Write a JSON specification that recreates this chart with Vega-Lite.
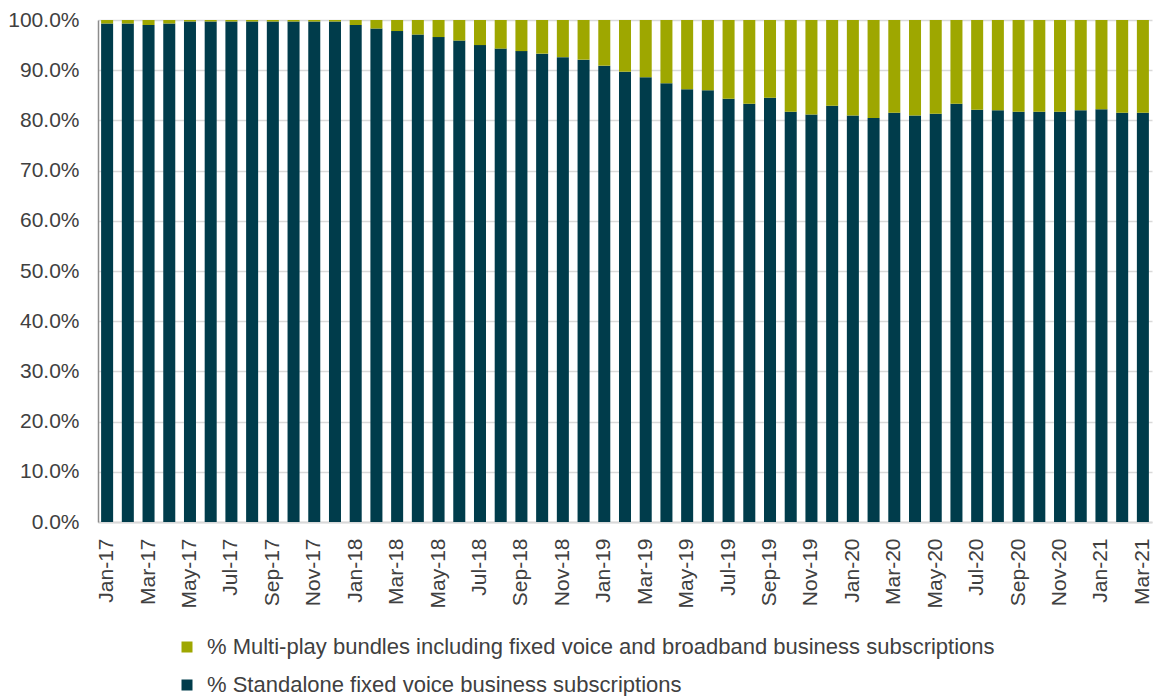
{
  "$schema": "https://vega.github.io/schema/vega-lite/v6.json",
  "width": 1054,
  "height": 502,
  "autosize": {"type": "none"},
  "padding": {"left": 98, "top": 20, "right": 2, "bottom": 174},
  "background": "#ffffff",
  "config": {
    "view": {"stroke": null},
    "font": "Liberation Sans",
    "axis": {"labelFont": "Liberation Sans", "labelColor": "#404040", "labelFontSize": 21},
    "legend": {"labelFont": "Liberation Sans", "labelColor": "#404040"}
  },
  "data": {
    "values": [
      {"month": "Jan-17", "standalone": 0.993, "multiplay": 0.007},
      {"month": "Feb-17", "standalone": 0.993, "multiplay": 0.007},
      {"month": "Mar-17", "standalone": 0.990, "multiplay": 0.010},
      {"month": "Apr-17", "standalone": 0.993, "multiplay": 0.007},
      {"month": "May-17", "standalone": 0.997, "multiplay": 0.003},
      {"month": "Jun-17", "standalone": 0.997, "multiplay": 0.003},
      {"month": "Jul-17", "standalone": 0.997, "multiplay": 0.003},
      {"month": "Aug-17", "standalone": 0.997, "multiplay": 0.003},
      {"month": "Sep-17", "standalone": 0.997, "multiplay": 0.003},
      {"month": "Oct-17", "standalone": 0.997, "multiplay": 0.003},
      {"month": "Nov-17", "standalone": 0.997, "multiplay": 0.003},
      {"month": "Dec-17", "standalone": 0.997, "multiplay": 0.003},
      {"month": "Jan-18", "standalone": 0.990, "multiplay": 0.010},
      {"month": "Feb-18", "standalone": 0.983, "multiplay": 0.017},
      {"month": "Mar-18", "standalone": 0.978, "multiplay": 0.022},
      {"month": "Apr-18", "standalone": 0.971, "multiplay": 0.029},
      {"month": "May-18", "standalone": 0.966, "multiplay": 0.034},
      {"month": "Jun-18", "standalone": 0.959, "multiplay": 0.041},
      {"month": "Jul-18", "standalone": 0.950, "multiplay": 0.050},
      {"month": "Aug-18", "standalone": 0.943, "multiplay": 0.057},
      {"month": "Sep-18", "standalone": 0.938, "multiplay": 0.062},
      {"month": "Oct-18", "standalone": 0.933, "multiplay": 0.067},
      {"month": "Nov-18", "standalone": 0.926, "multiplay": 0.074},
      {"month": "Dec-18", "standalone": 0.921, "multiplay": 0.079},
      {"month": "Jan-19", "standalone": 0.909, "multiplay": 0.091},
      {"month": "Feb-19", "standalone": 0.897, "multiplay": 0.103},
      {"month": "Mar-19", "standalone": 0.886, "multiplay": 0.114},
      {"month": "Apr-19", "standalone": 0.874, "multiplay": 0.126},
      {"month": "May-19", "standalone": 0.862, "multiplay": 0.138},
      {"month": "Jun-19", "standalone": 0.860, "multiplay": 0.140},
      {"month": "Jul-19", "standalone": 0.843, "multiplay": 0.157},
      {"month": "Aug-19", "standalone": 0.833, "multiplay": 0.167},
      {"month": "Sep-19", "standalone": 0.845, "multiplay": 0.155},
      {"month": "Oct-19", "standalone": 0.817, "multiplay": 0.183},
      {"month": "Nov-19", "standalone": 0.812, "multiplay": 0.188},
      {"month": "Dec-19", "standalone": 0.829, "multiplay": 0.171},
      {"month": "Jan-20", "standalone": 0.810, "multiplay": 0.190},
      {"month": "Feb-20", "standalone": 0.805, "multiplay": 0.195},
      {"month": "Mar-20", "standalone": 0.815, "multiplay": 0.185},
      {"month": "Apr-20", "standalone": 0.810, "multiplay": 0.190},
      {"month": "May-20", "standalone": 0.813, "multiplay": 0.187},
      {"month": "Jun-20", "standalone": 0.833, "multiplay": 0.167},
      {"month": "Jul-20", "standalone": 0.821, "multiplay": 0.179},
      {"month": "Aug-20", "standalone": 0.820, "multiplay": 0.180},
      {"month": "Sep-20", "standalone": 0.817, "multiplay": 0.183},
      {"month": "Oct-20", "standalone": 0.817, "multiplay": 0.183},
      {"month": "Nov-20", "standalone": 0.817, "multiplay": 0.183},
      {"month": "Dec-20", "standalone": 0.820, "multiplay": 0.180},
      {"month": "Jan-21", "standalone": 0.822, "multiplay": 0.178},
      {"month": "Feb-21", "standalone": 0.815, "multiplay": 0.185},
      {"month": "Mar-21", "standalone": 0.815, "multiplay": 0.185}
    ]
  },
  "transform": [
    {"fold": ["standalone", "multiplay"], "as": ["series", "share"]}
  ],
  "mark": {"type": "bar"},
  "encoding": {
    "x": {
      "field": "month",
      "type": "nominal",
      "sort": null,
      "scale": {"paddingInner": 0.42, "paddingOuter": 0.15},
      "axis": {
        "title": null,
        "labelAngle": -90,
        "labelPadding": 16,
        "ticks": false,
        "domainColor": "#d9d9d9",
        "domainWidth": 2,
        "grid": false,
        "values": ["Jan-17", "Mar-17", "May-17", "Jul-17", "Sep-17", "Nov-17",
                   "Jan-18", "Mar-18", "May-18", "Jul-18", "Sep-18", "Nov-18",
                   "Jan-19", "Mar-19", "May-19", "Jul-19", "Sep-19", "Nov-19",
                   "Jan-20", "Mar-20", "May-20", "Jul-20", "Sep-20", "Nov-20",
                   "Jan-21", "Mar-21"]
      }
    },
    "y": {
      "field": "share",
      "type": "quantitative",
      "stack": "zero",
      "scale": {"domain": [0, 1], "nice": false},
      "axis": {
        "title": null,
        "format": ".1%",
        "values": [0, 0.1, 0.2, 0.3, 0.4, 0.5, 0.6, 0.7, 0.8, 0.9, 1],
        "ticks": false,
        "labelPadding": 19,
        "domainColor": "#8c8c8c",
        "domainWidth": 1.5,
        "gridColor": "#d9d9d9",
        "gridWidth": 1.5
      }
    },
    "order": {"field": "series", "sort": "descending"},
    "color": {
      "field": "series",
      "type": "nominal",
      "scale": {
        "domain": ["multiplay", "standalone"],
        "range": ["#9ea700", "#003c4b"]
      },
      "legend": {
        "title": null,
        "orient": "none",
        "legendX": 78,
        "legendY": 616,
        "direction": "vertical",
        "symbolType": "square",
        "symbolSize": 121,
        "symbolStrokeWidth": 0,
        "labelFontSize": 22,
        "labelOffset": 9,
        "rowPadding": 16,
        "labelLimit": 1000,
        "padding": 0,
        "labelExpr": "datum.label == 'multiplay' ? '% Multi-play bundles including fixed voice and broadband business subscriptions' : '% Standalone fixed voice business subscriptions'"
      }
    }
  }
}
